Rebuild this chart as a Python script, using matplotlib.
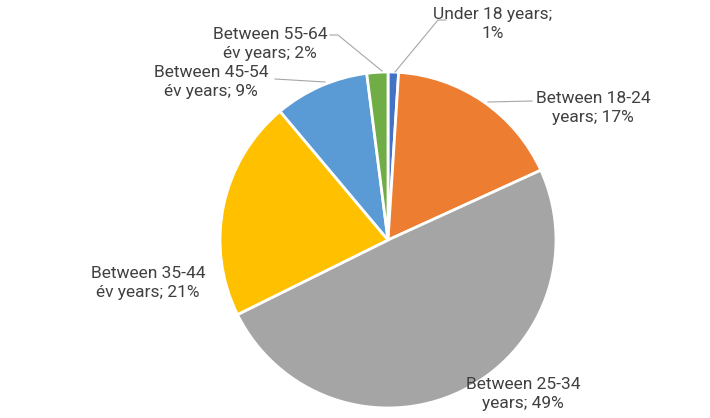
import numpy as np
import matplotlib.pyplot as plt

plt.rcParams['font.family'] = ['Roboto', 'DejaVu Sans']

groups = ['Under 18 years', 'Between 18-24 years', 'Between 25-34 years',
          'Between 35-44 év years', 'Between 45-54 év years', 'Between 55-64 év years']
shares = [1, 17, 49, 21, 9, 2]
labels = ['Under 18 years;\n1%', 'Between 18-24\nyears; 17%', 'Between 25-34\nyears; 49%',
          'Between 35-44\név years; 21%', 'Between 45-54\név years; 9%',
          'Between 55-64\név years; 2%']
colors = ['#4472C4', '#ED7D31', '#A5A5A5', '#FFC000', '#5B9BD5', '#70AD47']

W, H = 710, 418
cx, cy, r = 388, 240, 168

fig = plt.figure(figsize=(W / 100, H / 100), dpi=100)
ax = fig.add_axes([(cx - r) / W, (H - cy - r) / H, 2 * r / W, 2 * r / H])
ax.pie(shares, colors=colors, startangle=90, counterclock=False, radius=1,
       wedgeprops=dict(edgecolor='white', linewidth=2))
ax.set_xlim(-1, 1)
ax.set_ylim(-1, 1)
ax.set_aspect('equal')
ax.axis('off')


def d(px, py):
    return ((px - cx) / r, (cy - py) / r)


# label centres (pixels) and leader lines
pos = [(493, 24), (593, 108), (523, 394), (148, 283), (211, 82), (270, 44)]
leaders = [
    [(395, 72), (438, 20), (446, 20)],
    [(488, 102), (532, 101)],
    None,
    None,
    [(325, 82), (275, 79)],
    [(382, 71), (338, 35), (330, 35)],
]

for lab, p, ld in zip(labels, pos, leaders):
    ax.text(*d(*p), lab, ha='center', va='center', fontsize=12.5,
            color='#404040', linespacing=1.3, clip_on=False)
    if ld:
        xs, ys = zip(*[d(*q) for q in ld])
        ax.plot(xs, ys, color='#A6A6A6', lw=0.8, clip_on=False)

fig.savefig('out.png', dpi=100)
